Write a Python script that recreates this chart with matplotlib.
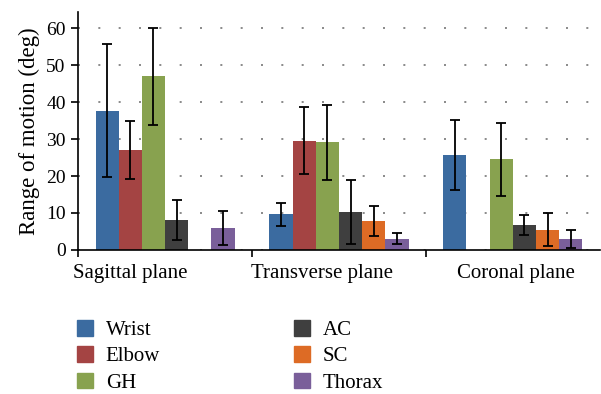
import numpy as np
import matplotlib
matplotlib.use('Agg')
import matplotlib.pyplot as plt
from matplotlib.patches import Patch

plt.rcParams['font.family'] = ['Liberation Serif', 'DejaVu Serif']

planes = ['Sagittal plane', 'Transverse plane', 'Coronal plane']
joints = ['Wrist', 'Elbow', 'GH', 'AC', 'SC', 'Thorax']
colors = ['#3B6BA0', '#A44443', '#88A24F', '#3F3F3F', '#DD6B25', '#7A5F9A']

# mean range of motion per plane, one list per joint
wrist = [37.7, 9.6, 25.7]
elbow = [27.0, 29.6, 0.0]
gh = [47.0, 29.1, 24.5]
ac = [8.1, 10.3, 6.8]
sc = [0.0, 7.9, 5.4]
thorax = [5.9, 3.0, 3.0]

wrist_sd = [18.1, 3.2, 9.6]
elbow_sd = [7.8, 9.0, 0.0]
gh_sd = [13.1, 10.1, 9.8]
ac_sd = [5.4, 8.6, 2.7]
sc_sd = [0.0, 4.1, 4.5]
thorax_sd = [4.6, 1.5, 2.5]

means = [wrist, elbow, gh, ac, sc, thorax]
sds = [wrist_sd, elbow_sd, gh_sd, ac_sd, sc_sd, thorax_sd]

fig = plt.figure(figsize=(6.01, 3.94), dpi=100)
ax = fig.add_axes([0.13, 0.366, 0.868, 0.604])

x = np.arange(len(planes))
w = 0.8 / len(joints)
for i in range(len(joints)):
    pos = x - 0.4 + w * (i + 0.5)
    ax.bar(pos, means[i], w, color=colors[i], zorder=2)
    m = np.array(means[i])
    e = np.array(sds[i])
    keep = m > 0
    ax.errorbar(pos[keep], m[keep], yerr=e[keep], fmt='none', ecolor='black',
                elinewidth=1.3, capsize=3.5, capthick=1.3, zorder=3)

ax.set_xlim(-0.5, 2.5)
ax.set_ylim(0, 64.5)
ax.set_yticks(range(0, 61, 10))
ax.yaxis.grid(True, linestyle=(0, (1.2, 11)), color='#777777', linewidth=1.2)
ax.set_axisbelow(True)
for s in ['top', 'right']:
    ax.spines[s].set_visible(False)
ax.spines['left'].set_linewidth(1.2)
ax.spines['bottom'].set_linewidth(1.2)

ax.set_xticks([-0.5, 0.5, 1.5], minor=True)
ax.set_xticks([-0.2, 0.9, 2.02])
ax.set_xticklabels(planes, fontsize=15)
ax.tick_params(axis='x', which='major', length=0, pad=10)
ax.tick_params(axis='x', which='minor', length=5, width=1.2)
ax.tick_params(axis='y', labelsize=14, length=5, width=1.2, pad=4)
ax.set_ylabel('Range of motion (deg)', fontsize=16.5, labelpad=4)

handles = [Patch(color=c, label=j) for c, j in zip(colors, joints)]
fig.legend(handles=handles, ncol=2, loc='upper left', bbox_to_anchor=(0.114, 0.209),
           frameon=False, fontsize=15, handlelength=0.77, handleheight=0.77,
           handletextpad=0.62, columnspacing=6.4, labelspacing=0.3, borderaxespad=0)

plt.savefig('out.png')
